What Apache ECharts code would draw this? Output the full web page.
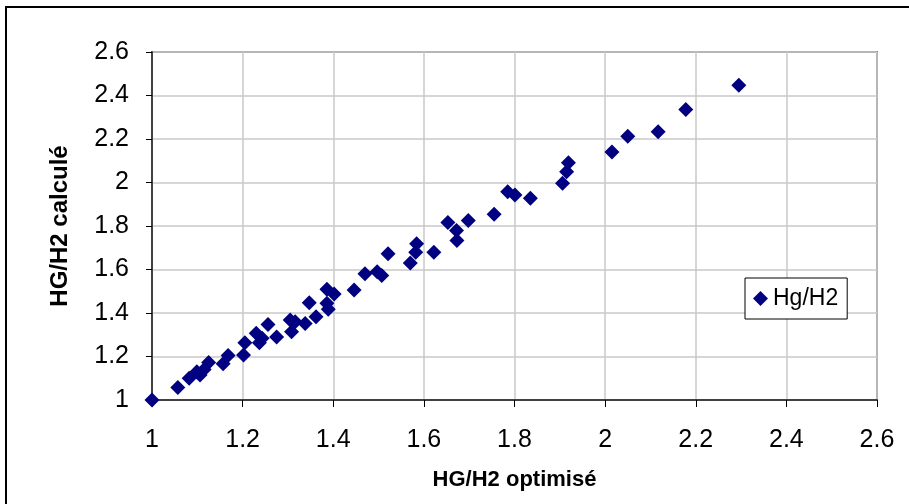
<!DOCTYPE html>
<html>
<head>
<meta charset="utf-8">
<script src="https://cdn.jsdelivr.net/npm/echarts@6/dist/echarts.min.js"></script>
<style>
html,body{margin:0;padding:0;background:#fff;}
#c{width:909px;height:504px;}
</style>
</head>
<body>
<div id="c"></div>
<script>
const seriesName = 'Hg/H2';
const xTitle = 'HG/H2 optimisé';
const yTitle = 'HG/H2 calculé';
const axisMin = 1, axisMax = 2.6, axisStep = 0.2;

const hgOptimise = [
  1.00, 1.057, 1.082, 1.099, 1.106, 1.115, 1.125, 1.157, 1.168, 1.202,
  1.205, 1.230, 1.237, 1.243, 1.256, 1.275, 1.305, 1.308, 1.316, 1.338,
  1.347, 1.362, 1.386, 1.386, 1.389, 1.402, 1.446, 1.470, 1.497, 1.507,
  1.521, 1.570, 1.582, 1.584, 1.622, 1.653, 1.672, 1.673, 1.698, 1.755,
  1.785, 1.801, 1.835, 1.906, 1.915, 1.919, 2.015, 2.050, 2.117, 2.178,
  2.295
];
const hgCalcule = [
  1.00, 1.058, 1.100, 1.130, 1.115, 1.140, 1.172, 1.167, 1.205, 1.207,
  1.263, 1.307, 1.263, 1.284, 1.347, 1.290, 1.368, 1.314, 1.360, 1.352,
  1.447, 1.383, 1.509, 1.445, 1.417, 1.487, 1.506, 1.580, 1.590, 1.572,
  1.672, 1.630, 1.679, 1.718, 1.679, 1.816, 1.779, 1.733, 1.825, 1.854,
  1.958, 1.943, 1.928, 1.996, 2.050, 2.091, 2.140, 2.213, 2.233, 2.336,
  2.447
];

const points = hgOptimise.map((x, i) => [x, hgCalcule[i]]);

const chart = echarts.init(document.getElementById('c'), null, {renderer: 'canvas'});
const font = 'Liberation Sans, Arial, sans-serif';
const navy = '#000080';

chart.setOption({
  animation: false,
  backgroundColor: '#ffffff',
  graphic: [{
    type: 'rect',
    shape: {x: 6, y: 7, width: 930, height: 530},
    style: {fill: 'none', stroke: '#000', lineWidth: 2},
    z: 100
  }],
  grid: {
    left: 152, right: 32, top: 52, bottom: 104,
    show: true, borderColor: '#808080', borderWidth: 2, backgroundColor: '#fff'
  },
  legend: {
    left: 745, top: 278,
    orient: 'vertical',
    backgroundColor: '#fff',
    borderColor: '#000', borderWidth: 1, borderRadius: 0,
    padding: [9, 9, 9, 8],
    itemWidth: 15, itemHeight: 15, itemGap: 4,
    textStyle: {fontFamily: font, fontSize: 23, color: '#000'},
    data: [{name: seriesName, icon: 'diamond', itemStyle: {color: navy, opacity: 1}}]
  },
  xAxis: {
    type: 'value', min: axisMin, max: axisMax, interval: axisStep,
    name: xTitle, nameLocation: 'middle', nameGap: 69,
    nameTextStyle: {fontFamily: font, fontSize: 22, fontWeight: 'bold', color: '#000'},
    axisLine: {show: true, onZero: false, lineStyle: {color: '#404040', width: 2}},
    axisTick: {show: true, length: 7, lineStyle: {color: '#000', width: 1}},
    splitLine: {show: true, lineStyle: {color: '#c8c8c8', width: 1.5}},
    axisLabel: {
      margin: 28, fontFamily: font, fontSize: 25, color: '#000',
      formatter: v => String(Math.round(v * 10) / 10)
    }
  },
  yAxis: {
    type: 'value', min: axisMin, max: axisMax, interval: axisStep,
    name: yTitle, nameLocation: 'middle', nameGap: 80,
    nameTextStyle: {fontFamily: font, fontSize: 24, fontWeight: 'bold', color: '#000'},
    axisLine: {show: true, onZero: false, lineStyle: {color: '#404040', width: 2}},
    axisTick: {show: true, length: 6, lineStyle: {color: '#000', width: 1}},
    splitLine: {show: true, lineStyle: {color: '#c8c8c8', width: 1.5}},
    axisLabel: {
      margin: 23, fontFamily: font, fontSize: 25, color: '#000',
      formatter: v => String(Math.round(v * 10) / 10)
    }
  },
  series: [{
    name: seriesName,
    type: 'scatter',
    symbol: 'diamond',
    symbolSize: 15,
    itemStyle: {color: navy, opacity: 1},
    data: points,
    clip: false
  }]
});
</script>
</body>
</html>
